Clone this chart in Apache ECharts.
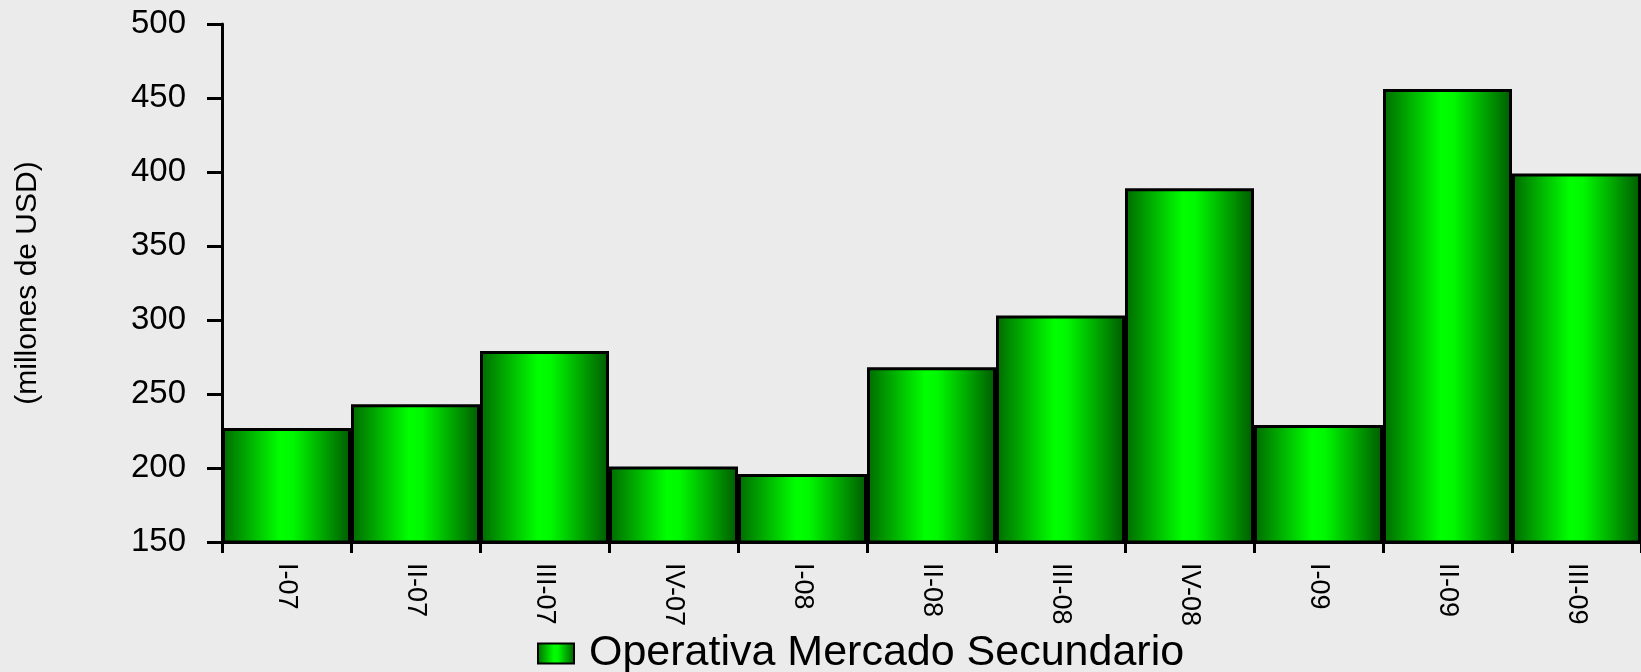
<!DOCTYPE html>
<html>
<head>
<meta charset="utf-8">
<script src="https://cdn.jsdelivr.net/npm/echarts@6/dist/echarts.min.js"></script>
<style>
    html, body { margin: 0; padding: 0; background: #ebebeb; }
    #chart { width: 1641px; height: 672px; }
</style>
</head>
<body>
<div id="chart"></div>
<script>
// trimestres
const categories = ['I-07', 'II-07', 'III-07', 'IV-07', 'I-08', 'II-08', 'III-08', 'IV-08', 'I-09', 'II-09', 'III-09']
// millones de USD
const operativa = [227, 243, 279, 201, 196, 268, 303, 389, 229, 456, 399]
const seriesName = 'Operativa Mercado Secundario'
const yMin = 150
const yMax = 500
const yStep = 50

const font = 'Liberation Sans, Arial, sans-serif'

// degradado horizontal de las barras
const barColor = new echarts.graphic.LinearGradient(0, 0, 1, 0, [
    {offset: 0, color: '#006a00'},
    {offset: 0.45, color: '#00ff00'},
    {offset: 0.55, color: '#00f800'},
    {offset: 1, color: '#005a00'}
])

const chart = echarts.init(document.getElementById('chart'))
const options = {
    backgroundColor: '#ebebeb',
    animation: false,
    grid: {
        left: 222,
        right: 0,
        top: 24,
        bottom: 130
    },
    legend: {
        left: 532,
        top: 627,
        icon: 'rect',
        itemWidth: 36,
        itemHeight: 20,
        itemStyle: {
            borderColor: '#000',
            borderWidth: 2
        },
        textStyle: {
            fontFamily: font,
            fontSize: 43,
            color: '#000',
            padding: [0, 0, 0, 10]
        },
        data: [seriesName]
    },
    xAxis: {
        type: 'category',
        data: categories,
        axisLine: {
            show: true,
            lineStyle: {color: '#000', width: 3}
        },
        axisTick: {
            show: true,
            length: 11,
            lineStyle: {color: '#000', width: 3}
        },
        axisLabel: {
            interval: 0,
            rotate: -90,
            margin: 21,
            fontFamily: font,
            fontSize: 27,
            color: '#000'
        }
    },
    yAxis: {
        type: 'value',
        min: yMin,
        max: yMax,
        interval: yStep,
        name: '(millones de USD)',
        nameLocation: 'middle',
        nameGap: 179,
        nameRotate: 90,
        nameTextStyle: {
            fontFamily: font,
            fontSize: 30,
            color: '#000'
        },
        splitLine: {show: false},
        axisLine: {
            show: true,
            lineStyle: {color: '#000', width: 3}
        },
        axisTick: {
            show: true,
            length: 15,
            lineStyle: {color: '#000', width: 3}
        },
        axisLabel: {
            margin: 36,
            fontFamily: font,
            fontSize: 33,
            color: '#000'
        }
    },
    series: [
        {
            name: seriesName,
            type: 'bar',
            barCategoryGap: '0%',
            itemStyle: {
                color: barColor,
                borderColor: '#000',
                borderWidth: 3
            },
            data: operativa
        }
    ]
}
chart.setOption(options)
</script>
</body>
</html>
